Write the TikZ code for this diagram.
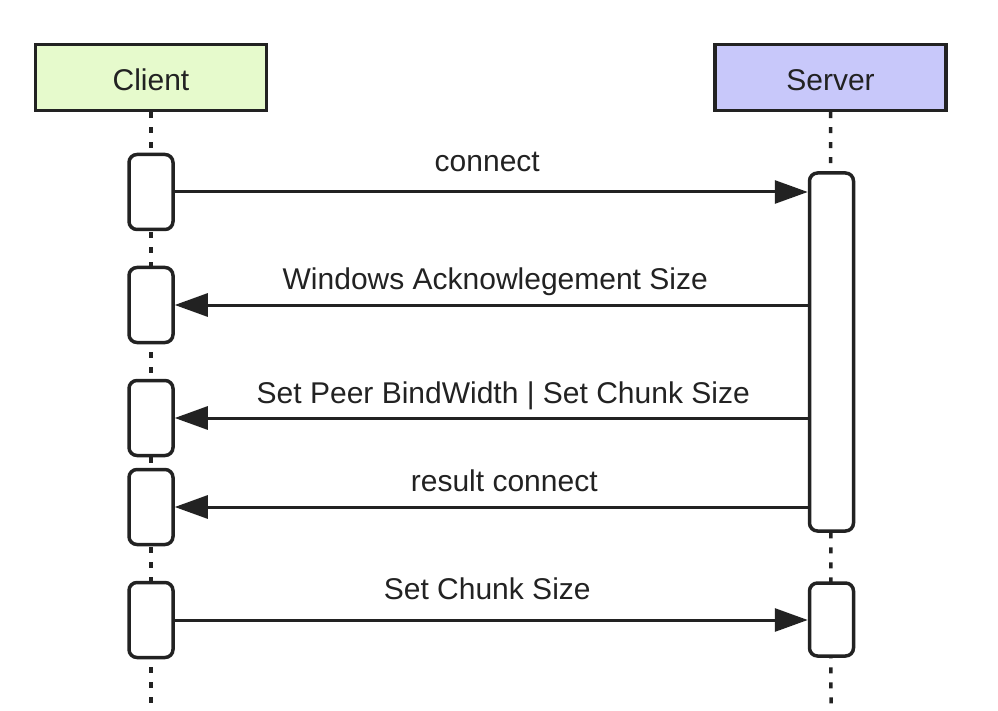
\documentclass[tikz,border=0pt]{standalone}
\usepackage{fontspec}
\setmainfont{Liberation Sans}
\usepackage{xcolor}
\usetikzlibrary{arrows.meta}
\definecolor{clientfill}{HTML}{E6FACC}
\definecolor{serverfill}{HTML}{C8C8FA}
\definecolor{ink}{HTML}{222222}
\tikzset{
  actor/.style={draw=ink, line width=3.5pt, minimum width=231pt, minimum height=66pt, inner sep=0pt, text=ink},
  act/.style={draw=ink, fill=white, line width=3.5pt, rounded corners=8pt, minimum width=44pt, inner sep=0pt},
  life/.style={draw=ink, line width=3.5pt, dash pattern=on 6pt off 9pt},
  msg/.style={draw=ink, line width=3pt, -{Triangle[length=33pt,width=23pt]}},
  lbl/.style={anchor=base, text=ink, inner sep=0pt}
}

\begin{document}
\begin{tikzpicture}[x=1pt,y=-1pt,font=\fontsize{30}{36}\selectfont]
\useasboundingbox (0,0) rectangle (998,711);
\node[actor, fill=clientfill] at (151,77.5) (client) {};
\node[actor, fill=serverfill] at (830.5,77.5) (server) {};
\node[lbl] at (151,91) (clientname) {Client};
\node[lbl] at (830.5,91) (servername) {Server};
\coordinate (clientend) at (151,711);
\coordinate (serverend) at (831,711);
\draw[life] (client.south) -- (clientend);
\draw[life] (server.south) -- (serverend);
\node[act, minimum height=75pt] at (151,192) (c1) {};
\node[act, minimum height=75pt] at (151,305) (c2) {};
\node[act, minimum height=75pt] at (151,418) (c3) {};
\node[act, minimum height=75pt] at (151,507) (c4) {};
\node[act, minimum height=75pt] at (151,620) (c5) {};
\node[act, minimum height=358pt] at (831.5,352) (s1) {};
\node[act, minimum height=73pt] at (831.5,619.5) (s2) {};
\draw[msg] (c1.east) -- (c1.east -| s1.west)
  node[lbl, midway, yshift=20pt, xshift=-4pt] {connect};
\draw[msg] (c2.east -| s1.west) -- (c2.east)
  node[lbl, midway, yshift=15pt, xshift=4pt] {Windows Acknowlegement Size};
\draw[msg] (c3.east -| s1.west) -- (c3.east)
  node[lbl, midway, yshift=15pt, xshift=12pt] {Set Peer BindWidth | Set Chunk Size};
\draw[msg] (c4.east -| s1.west) -- (c4.east)
  node[lbl, midway, yshift=16pt, xshift=13pt] {result connect};
\draw[msg] (c5.east) -- (c5.east -| s2.west)
  node[lbl, midway, yshift=21pt, xshift=-4pt] {Set Chunk Size};
\end{tikzpicture}
\end{document}
